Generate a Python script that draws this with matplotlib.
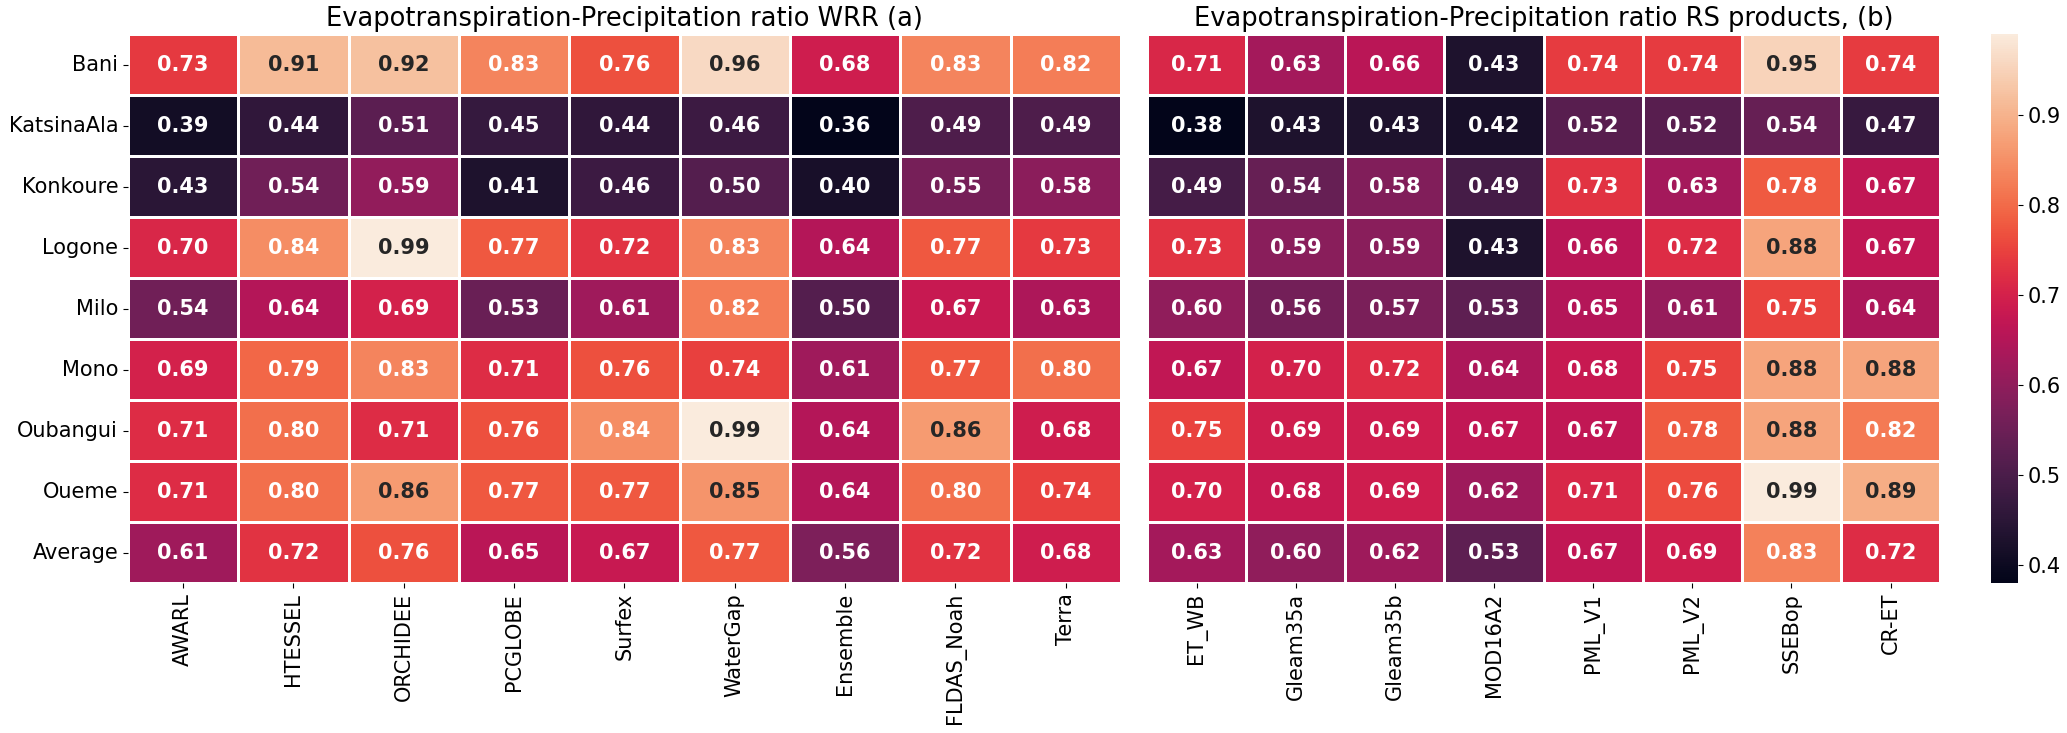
import matplotlib
matplotlib.use("Agg")
import matplotlib.pyplot as plt
import seaborn as sns
import numpy as np
import pandas as pd

rows = ["Bani", "KatsinaAla", "Konkoure", "Logone", "Milo", "Mono", "Oubangui", "Oueme", "Average"]

wrr_cols = ["AWARL", "HTESSEL", "ORCHIDEE", "PCGLOBE", "Surfex", "WaterGap", "Ensemble", "FLDAS_Noah", "Terra"]
wrr_vals = [
    [0.73, 0.91, 0.92, 0.83, 0.76, 0.96, 0.68, 0.83, 0.82],
    [0.39, 0.44, 0.51, 0.45, 0.44, 0.46, 0.36, 0.49, 0.49],
    [0.43, 0.54, 0.59, 0.41, 0.46, 0.50, 0.40, 0.55, 0.58],
    [0.70, 0.84, 0.99, 0.77, 0.72, 0.83, 0.64, 0.77, 0.73],
    [0.54, 0.64, 0.69, 0.53, 0.61, 0.82, 0.50, 0.67, 0.63],
    [0.69, 0.79, 0.83, 0.71, 0.76, 0.74, 0.61, 0.77, 0.80],
    [0.71, 0.80, 0.71, 0.76, 0.84, 0.99, 0.64, 0.86, 0.68],
    [0.71, 0.80, 0.86, 0.77, 0.77, 0.85, 0.64, 0.80, 0.74],
    [0.61, 0.72, 0.76, 0.65, 0.67, 0.77, 0.56, 0.72, 0.68],
]

rs_cols = ["ET_WB", "Gleam35a", "Gleam35b", "MOD16A2", "PML_V1", "PML_V2", "SSEBop", "CR-ET"]
rs_vals = [
    [0.71, 0.63, 0.66, 0.43, 0.74, 0.74, 0.95, 0.74],
    [0.38, 0.43, 0.43, 0.42, 0.52, 0.52, 0.54, 0.47],
    [0.49, 0.54, 0.58, 0.49, 0.73, 0.63, 0.78, 0.67],
    [0.73, 0.59, 0.59, 0.43, 0.66, 0.72, 0.88, 0.67],
    [0.60, 0.56, 0.57, 0.53, 0.65, 0.61, 0.75, 0.64],
    [0.67, 0.70, 0.72, 0.64, 0.68, 0.75, 0.88, 0.88],
    [0.75, 0.69, 0.69, 0.67, 0.67, 0.78, 0.88, 0.82],
    [0.70, 0.68, 0.69, 0.62, 0.71, 0.76, 0.99, 0.89],
    [0.63, 0.60, 0.62, 0.53, 0.67, 0.69, 0.83, 0.72],
]

title_a = "Evapotranspiration-Precipitation ratio WRR (a)"
title_b = "Evapotranspiration-Precipitation ratio RS products, (b)"

df_a = pd.DataFrame(wrr_vals, index=rows, columns=wrr_cols)
df_b = pd.DataFrame(rs_vals, index=rows, columns=rs_cols)

FS = 15
fig = plt.figure(figsize=(20.67, 7.33), dpi=100)
bottom, height = 0.2046, 0.749
ax1 = fig.add_axes([0.0619, bottom, 0.4804, height])
ax2 = fig.add_axes([0.5549, bottom, 0.3837, height])
cax = fig.add_axes([0.9632, bottom, 0.0131, height])

kw = dict(annot=True, fmt=".2f", cmap="rocket", linewidths=2, linecolor="white",
          annot_kws={"weight": "bold", "size": FS})
sns.heatmap(df_a, ax=ax1, cbar=False, **kw)
sns.heatmap(df_b, ax=ax2, cbar=True, cbar_ax=cax, **kw)

ax1.set_title(title_a, fontsize=18.5)
ax2.set_title(title_b, fontsize=18.5)
ax1.tick_params(axis="both", labelsize=FS)
ax2.tick_params(axis="x", labelsize=FS)
ax1.set_yticklabels(ax1.get_yticklabels(), rotation=0)
ax1.set_xticklabels(ax1.get_xticklabels(), rotation=90)
ax2.set_xticklabels(ax2.get_xticklabels(), rotation=90)
ax2.set_yticks([])
cax.tick_params(labelsize=FS)
cax.set_yticks([0.4, 0.5, 0.6, 0.7, 0.8, 0.9])

fig.savefig("out.png", dpi=100)
